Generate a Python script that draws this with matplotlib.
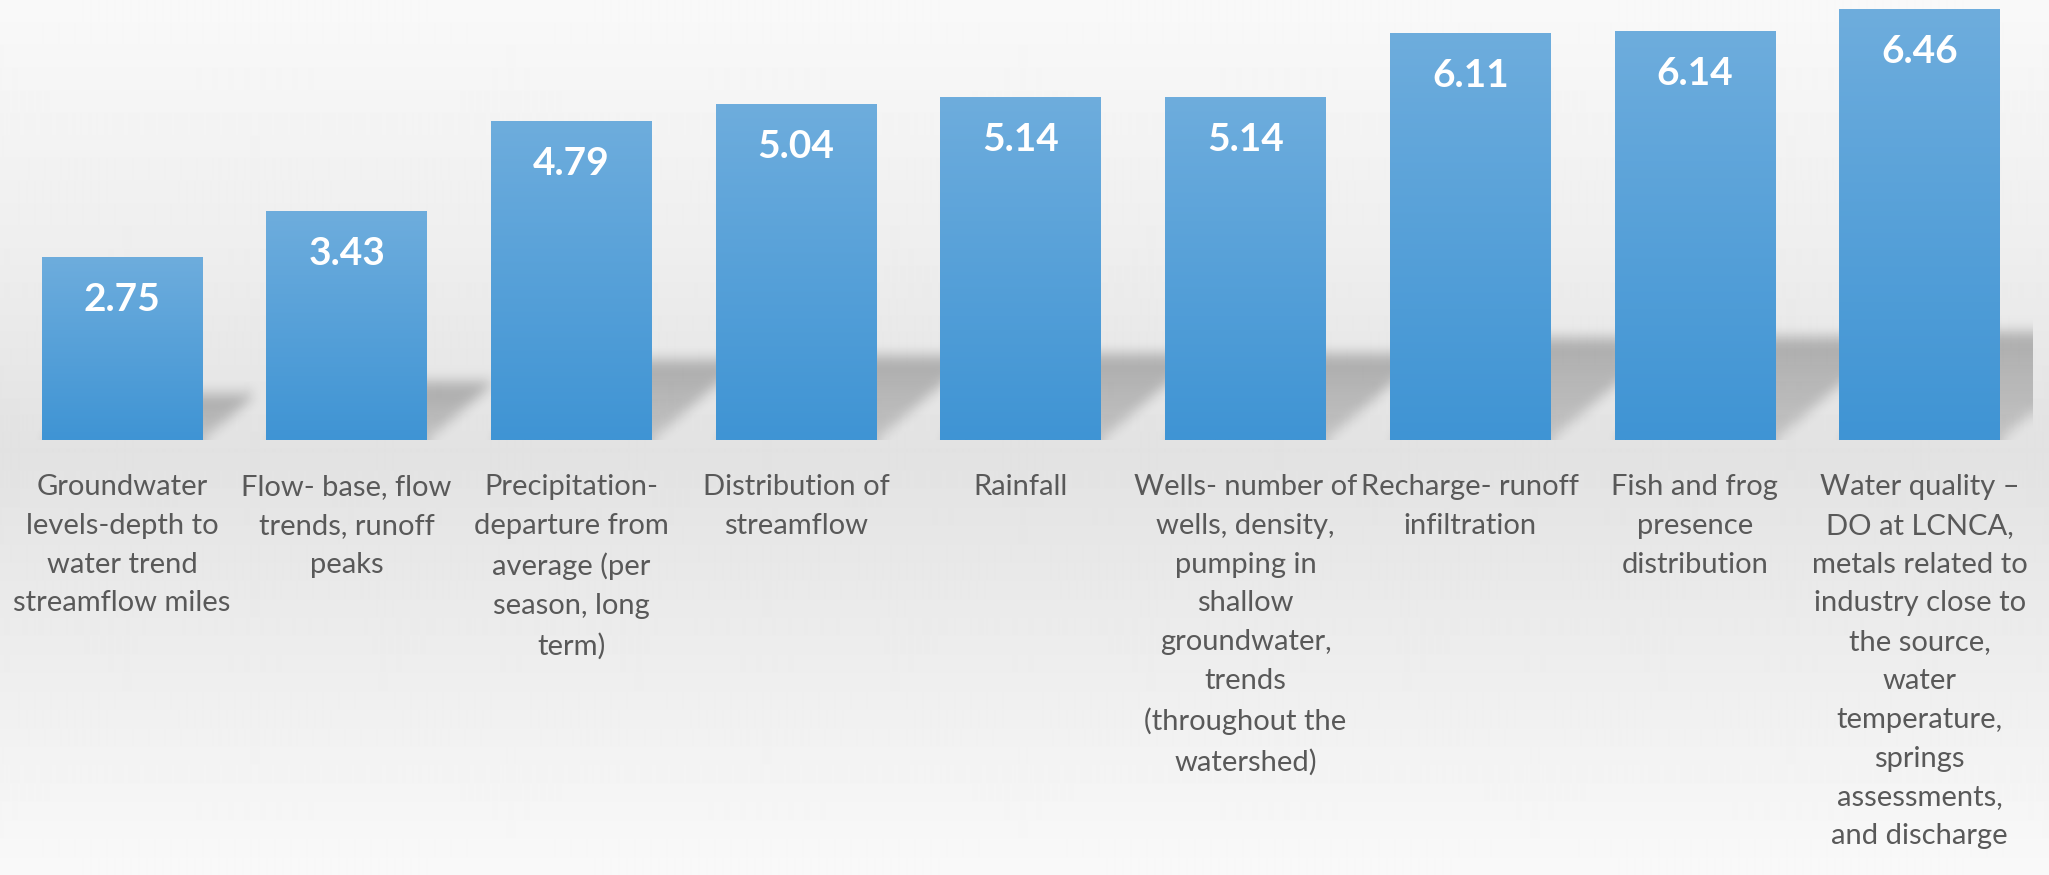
import numpy as np
import matplotlib.pyplot as plt
import matplotlib.transforms as mtransforms

# Indicator scores
categories = [
    "Groundwater\nlevels-depth to\nwater trend\nstreamflow miles",
    "Flow- base, flow\ntrends, runoff\npeaks",
    "Precipitation-\ndeparture from\naverage (per\nseason, long\nterm)",
    "Distribution of\nstreamflow",
    "Rainfall",
    "Wells- number of\nwells, density,\npumping in\nshallow\ngroundwater,\ntrends\n(throughout the\nwatershed)",
    "Recharge- runoff\ninfiltration",
    "Fish and frog\npresence\ndistribution",
    "Water quality \u2013\nDO at LCNCA,\nmetals related to\nindustry close to\nthe source,\nwater\ntemperature,\nsprings\nassessments,\nand discharge",
]
scores = [2.75, 3.43, 4.79, 5.04, 5.14, 5.14, 6.11, 6.14, 6.46]

W, H = 2049, 875
fig = plt.figure(figsize=(W / 100, H / 100), dpi=100)

# soft grey page background
bg = fig.add_axes([0, 0, 1, 1])
bg.axis("off")
rows = np.arange(H)
shade = np.interp(rows, [0, 250, 450, 690, 875], [0xf9, 0xee, 0xe2, 0xef, 0xf9]) / 255
bg.imshow(np.repeat(shade[:, None], 4, axis=1), cmap="gray", vmin=0, vmax=1,
          aspect="auto", extent=[0, 1, 0, 1], interpolation="bilinear")

# plot area
x0, x1, ybase = 9.6, 2032, 440
ax = fig.add_axes([x0 / W, (H - ybase) / H, (x1 - x0) / W, ybase / H])
ax.patch.set_visible(False)
ax.axis("off")
n = len(scores)
ymax = 6.60
ax.set_xlim(-0.5, n - 0.5)
ax.set_ylim(0, ymax)
xs = np.arange(n)
width = 0.715

# cast shadows: squashed, sheared copy of each bar, blurred
nx, ny = int(x1 - x0), ybase
gx = np.linspace(-0.5, n - 0.5, nx)
gy = np.linspace(ymax, 0, ny)
GX, GY = np.meshgrid(gx, gy)
px_per_x = (x1 - x0) / n
px_per_y = ybase / ymax
k = 1.17 * px_per_y / px_per_x
mask = np.zeros((ny, nx))
for xi, v in zip(xs, scores):
    hs = 0.25 * v
    inside = (GY <= hs) & (GX >= xi - width / 2 + k * GY) & (GX <= xi + width / 2 + k * GY)
    fade = 0.55 + 0.45 * np.clip(GY / hs, 0, 1)
    mask = np.maximum(mask, inside * fade)


def box_blur(a, r, axis):
    pad = [(0, 0), (0, 0)]
    pad[axis] = (r + 1, r)
    c = np.cumsum(np.pad(a, pad, mode="edge"), axis=axis)
    if axis == 0:
        return (c[2 * r + 1:] - c[:-2 * r - 1]) / (2 * r + 1)
    return (c[:, 2 * r + 1:] - c[:, :-2 * r - 1]) / (2 * r + 1)


for _ in range(3):
    mask = box_blur(mask, 6, 0)
    mask = box_blur(mask, 4, 1)
shadow = np.zeros((ny, nx, 4))
shadow[..., 3] = 0.26 * mask
ax.imshow(shadow, extent=[-0.5, n - 0.5, 0, ymax], aspect="auto", zorder=1,
          interpolation="bilinear")

# bars with vertical blue gradient
grad = np.linspace(0, 1, 256)[:, None]
top_c = np.array([0x6e, 0xad, 0xdd]) / 255
bot_c = np.array([0x3f, 0x94, 0xd4]) / 255
grad_img = top_c * (1 - grad[..., None]) + bot_c * grad[..., None]
bars = ax.bar(xs, scores, width=width, color=bot_c, zorder=2)
for b in bars:
    im = ax.imshow(grad_img, extent=[b.get_x(), b.get_x() + b.get_width(), 0, b.get_height()],
                   aspect="auto", zorder=3, interpolation="bilinear")
    im.set_clip_path(b)

ax.set_xlim(-0.5, n - 0.5)
ax.set_ylim(0, ymax)

for xi, v in zip(xs, scores):
    ax.annotate(f"{v:.2f}", (xi, v), xytext=(0, -30.6), textcoords="offset points",
                ha="center", va="center", color="white", fontsize=28,
                fontweight="bold", family="Lato", zorder=4)

trans = mtransforms.blended_transform_factory(ax.transData, ax.transAxes)
for xi, lab in zip(xs, categories):
    ax.annotate(lab, (xi, 0), xycoords=trans, xytext=(0, -24.5), textcoords="offset points",
                ha="center", va="top", color="#595959", fontsize=21,
                family="Lato", linespacing=1.61, annotation_clip=False)

fig.savefig("out.png", dpi=100)
